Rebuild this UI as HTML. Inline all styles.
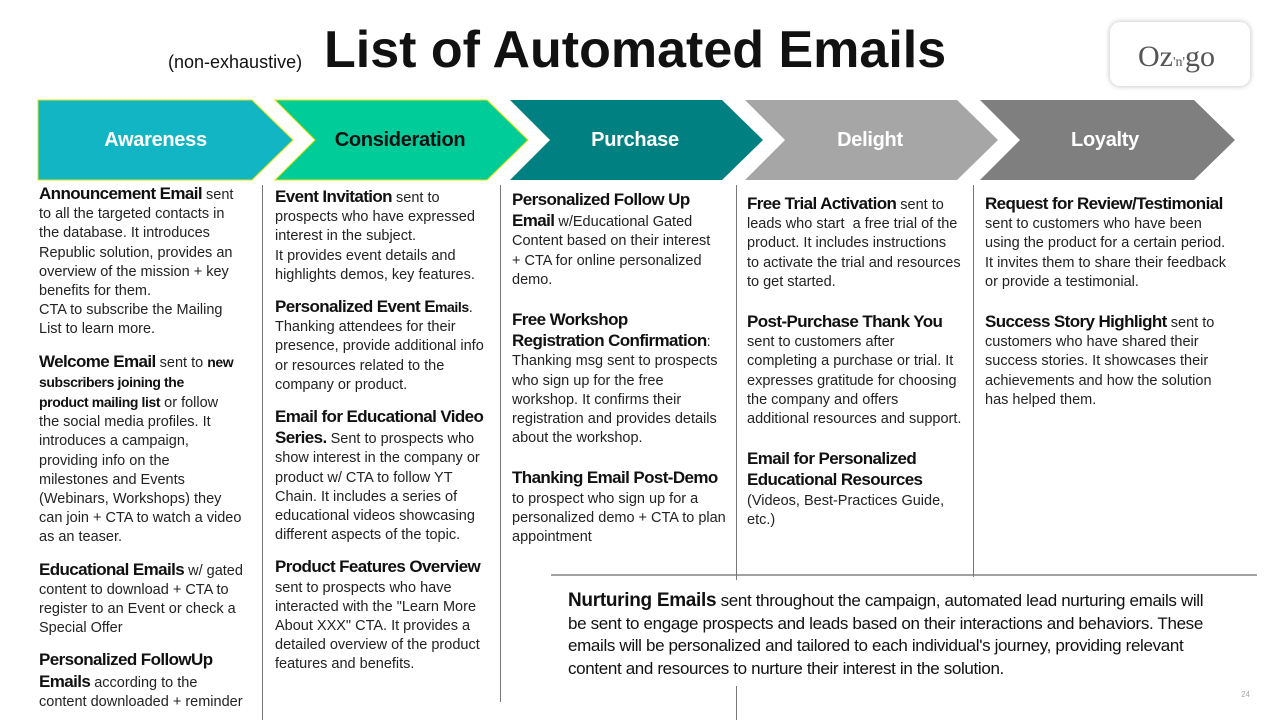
<!DOCTYPE html>
<html><head><meta charset="utf-8"><style>
body{margin:0;width:1280px;height:720px;background:#fff;position:relative;overflow:hidden;font-family:"Liberation Sans Narrow","Liberation Sans",sans-serif;color:#222}
.t{position:absolute;font-size:14.5px;line-height:19.2px;white-space:nowrap}
.t b{font-size:17px;letter-spacing:-0.6px;color:#111}
.t b.s{font-size:14px;letter-spacing:-0.4px}
.t p{margin:0 0 12px 0}
.v{position:absolute;width:1px;background:#777}
.lbl{position:absolute;top:100px;height:80px;line-height:80px;text-align:center;font-weight:bold;font-size:20px;letter-spacing:-0.3px;font-family:"Liberation Sans Narrow","Liberation Sans",sans-serif}
</style></head><body>
<div style="position:absolute;left:168px;top:52px;font-size:18px;font-family:'Liberation Sans',sans-serif;color:#111">(non-exhaustive)</div>
<div style="position:absolute;left:324px;top:20px;font-size:52px;font-weight:bold;font-family:'Liberation Sans',sans-serif;color:#111">List of Automated Emails</div>
<div style="position:absolute;left:1110px;top:22px;width:140px;height:64px;border-radius:10px;background:#fff;box-shadow:0 0 6px #bbb;"></div>
<div style="position:absolute;left:1138px;top:40px;font-size:30px;font-family:'Liberation Serif',serif;color:#555">Oz<span style="font-size:14px">'n'</span>go</div>
<svg style="position:absolute;left:0;top:0" width="1280" height="720">
<polygon points="38,100 252,100 293,140 252,180 38,180" fill="#12b5c4" stroke="#e6e600" stroke-width="1"/>
<polygon points="275,100 487,100 528,140 487,180 275,180 315,140" fill="#00cc99" stroke="#e6e600" stroke-width="1"/>
<polygon points="510,100 722,100 763,140 722,180 510,180 550,140" fill="#008080"/>
<polygon points="745,100 957,100 998,140 957,180 745,180 785,140" fill="#a6a6a6"/>
<polygon points="980,100 1194,100 1235,140 1194,180 980,180 1020,140" fill="#7f7f7f"/>
<line x1="551" y1="575" x2="1257" y2="575" stroke="#444" stroke-width="1"/>
</svg>
<div class="lbl" style="left:38px;width:235px;color:#fff">Awareness</div>
<div class="lbl" style="left:290px;width:220px;color:#111">Consideration</div>
<div class="lbl" style="left:525px;width:220px;color:#fff">Purchase</div>
<div class="lbl" style="left:760px;width:220px;color:#fff">Delight</div>
<div class="lbl" style="left:995px;width:220px;color:#fff">Loyalty</div>
<div class="v" style="left:262px;top:185px;height:535px"></div>
<div class="v" style="left:500px;top:185px;height:517px"></div>
<div class="v" style="left:736px;top:185px;height:395px"></div>
<div class="v" style="left:736px;top:686px;height:34px"></div>
<div class="v" style="left:973px;top:185px;height:392px"></div>

<div class="t" style="left:39px;top:184px">
<p><b>Announcement Email</b> sent<br>to all the targeted contacts in<br>the database. It introduces<br>Republic solution, provides an<br>overview of the mission + key<br>benefits for them.<br>CTA to subscribe the Mailing<br>List to learn more.</p>
<p><b>Welcome Email</b> sent to <b class="s">new</b><br><b class="s">subscribers joining the</b><br><b class="s">product mailing list</b> or follow<br>the social media profiles. It<br>introduces a campaign,<br>providing info on the<br>milestones and Events<br>(Webinars, Workshops) they<br>can join + CTA to watch a video<br>as an teaser.</p>
<p><b>Educational Emails</b> w/ gated<br>content to download + CTA to<br>register to an Event or check a<br>Special Offer</p>
<p><b>Personalized FollowUp</b><br><b>Emails</b> according to the<br>content downloaded + reminder</p>
</div>

<div class="t" style="left:275px;top:187px">
<p><b>Event Invitation</b> sent to<br>prospects who have expressed<br>interest in the subject.<br>It provides event details and<br>highlights demos, key features.</p>
<p><b>Personalized Event E</b><b class="s">mails</b>.<br>Thanking attendees for their<br>presence, provide additional info<br>or resources related to the<br>company or product.</p>
<p><b>Email for Educational Video</b><br><b>Series.</b> Sent to prospects who<br>show interest in the company or<br>product w/ CTA to follow YT<br>Chain. It includes a series of<br>educational videos showcasing<br>different aspects of the topic.</p>
<p><b>Product Features Overview</b><br>sent to prospects who have<br>interacted with the "Learn More<br>About XXX" CTA. It provides a<br>detailed overview of the product<br>features and benefits.</p>
</div>

<div class="t" style="left:512px;top:190px">
<p style="margin-bottom:20px"><b>Personalized Follow Up</b><br><b>Email</b> w/Educational Gated<br>Content based on their interest<br>+ CTA for online personalized<br>demo.</p>
<p style="margin-bottom:20px"><b>Free Workshop</b><br><b>Registration Confirmation</b>:<br>Thanking msg sent to prospects<br>who sign up for the free<br>workshop. It confirms their<br>registration and provides details<br>about the workshop.</p>
<p><b>Thanking Email Post-Demo</b><br>to prospect who sign up for a<br>personalized demo + CTA to plan<br>appointment</p>
</div>

<div class="t" style="left:747px;top:194px">
<p style="margin-bottom:20px"><b>Free Trial Activation</b> sent to<br>leads who start &nbsp;a free trial of the<br>product. It includes instructions<br>to activate the trial and resources<br>to get started.</p>
<p style="margin-bottom:20px"><b>Post-Purchase Thank You</b><br>sent to customers after<br>completing a purchase or trial. It<br>expresses gratitude for choosing<br>the company and offers<br>additional resources and support.</p>
<p><b>Email for Personalized</b><br><b>Educational Resources</b><br>(Videos, Best-Practices Guide,<br>etc.)</p>
</div>

<div class="t" style="left:985px;top:194px">
<p style="margin-bottom:20px"><b>Request for Review/Testimonial</b><br>sent to customers who have been<br>using the product for a certain period.<br>It invites them to share their feedback<br>or provide a testimonial.</p>
<p><b>Success Story Highlight</b> sent to<br>customers who have shared their<br>success stories. It showcases their<br>achievements and how the solution<br>has helped them.</p>
</div>

<div class="t" style="left:568px;top:590px;font-size:17px;letter-spacing:-0.35px;line-height:22.5px;color:#111">
<b style="font-size:19px;letter-spacing:-0.3px">Nurturing Emails</b> sent throughout the campaign, automated lead nurturing emails will<br>be sent to engage prospects and leads based on their interactions and behaviors. These<br>emails will be personalized and tailored to each individual's journey, providing relevant<br>content and resources to nurture their interest in the solution.
</div>
<div style="position:absolute;left:1241px;top:690px;font-size:8px;color:#aaa;font-family:'Liberation Sans',sans-serif">24</div>
</body></html>
